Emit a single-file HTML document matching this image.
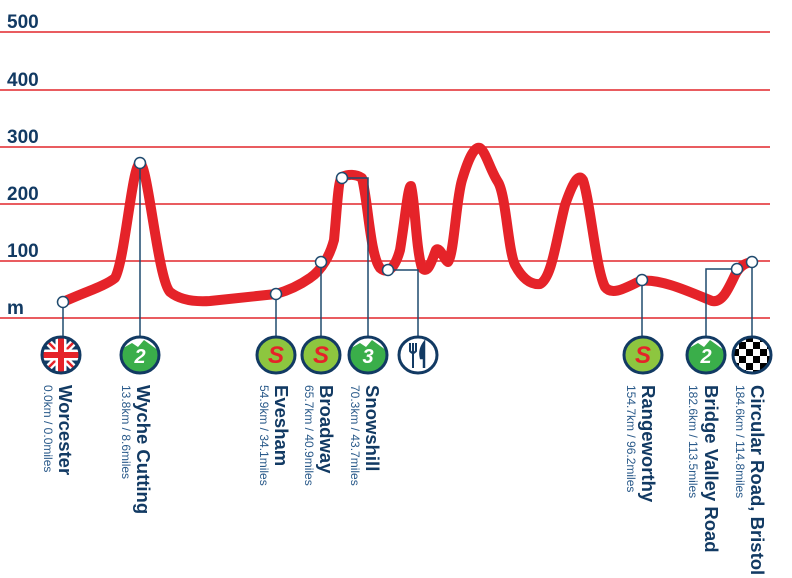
<!DOCTYPE html>
<html><head><meta charset="utf-8"><style>
html,body{margin:0;padding:0;background:#fff;width:792px;height:578px;overflow:hidden}
svg{display:block}
.ax{font:bold 19px "Liberation Sans",sans-serif;fill:#123a63}
.nm{font:bold 18.5px "Liberation Sans",sans-serif;fill:#123a63}
.ds{font:12px "Liberation Sans",sans-serif;fill:#2a5a8a}
</style></head><body>
<svg width="792" height="578" viewBox="0 0 792 578">
<defs>
<clipPath id="c"><ellipse cx="0" cy="0" rx="19" ry="18"/></clipPath>
<g id="mtn"><g clip-path="url(#c)"><rect x="-20" y="-20" width="40" height="40" fill="#fff"/><path d="M-22 -4 L-8 -12 L-2 -8 L4 -15 L22 -2 L22 22 L-22 22Z" fill="#3aae4a"/></g></g>
<g id="s"><ellipse rx="19" ry="18" fill="#8dc63f"/><text x="0" y="8" text-anchor="middle" style="font:italic bold 24px 'Liberation Sans',sans-serif;fill:#e52329">S</text></g>
</defs>
<g stroke="#e2262c" stroke-width="1.4">
<line x1="0" y1="32" x2="770" y2="32"/><line x1="0" y1="90" x2="770" y2="90"/><line x1="0" y1="147" x2="770" y2="147"/><line x1="0" y1="204" x2="770" y2="204"/><line x1="0" y1="261" x2="770" y2="261"/><line x1="0" y1="318" x2="770" y2="318"/>
</g>
<g class="ax"><text x="7" y="28">500</text><text x="7" y="86">400</text><text x="7" y="143">300</text><text x="7" y="200">200</text><text x="7" y="257">100</text><text x="7" y="314">m</text></g>
<path d="M63 302 C85 292 105 286 115 278 C125 260 132 165 140 163 C148 165 158 280 170 292 C180 300 195 302 210 301 L276 294 C290 290 300 285 310 278 C322 270 330 255 334 240 C337 210 338 180 342 177 C348 174 356 174 362 178 C368 200 370 255 380 268 C388 275 395 268 400 250 C405 220 408 185 411 186 C415 200 416 250 422 268 C428 275 432 260 436 250 C440 246 444 260 448 262 C454 255 456 200 462 180 C468 160 474 146 480 148 C486 152 490 170 498 182 C506 195 508 250 515 265 C522 278 530 285 540 284 C552 278 556 240 565 205 C572 185 578 172 583 180 C590 200 596 270 605 287 C612 296 625 288 640 281 C660 278 690 292 712 301 C722 303 728 290 735 275 C740 265 746 263 752 262" fill="none" stroke="#e52329" stroke-width="10" stroke-linecap="round" stroke-linejoin="round"/>
<g stroke="#1f4a6e" stroke-width="1.5" fill="none">
<path d="M63 302 V338"/><path d="M140 163 V338"/><path d="M276 294 V338"/><path d="M321 262 V338"/><path d="M342 178 H368 V338"/><path d="M388 270 H418 V338"/><path d="M642 280 V338"/><path d="M737 269 H706 V338"/><path d="M752 262 V338"/>
</g>
<g fill="#fff" stroke="#1f4a6e" stroke-width="1.5">
<circle cx="63" cy="302" r="5.5"/><circle cx="140" cy="163" r="5.5"/><circle cx="276" cy="294" r="5.5"/><circle cx="321" cy="262" r="5.5"/><circle cx="342" cy="178" r="5.5"/><circle cx="388" cy="270" r="5.5"/><circle cx="642" cy="280" r="5.5"/><circle cx="737" cy="269" r="5.5"/><circle cx="752" cy="262" r="5.5"/>
</g>
<g transform="translate(61,355)"><g clip-path="url(#c)"><rect x="-20" y="-20" width="40" height="40" fill="#123a63"/><path d="M-20 -20 L20 20 M20 -20 L-20 20" stroke="#fff" stroke-width="7"/><path d="M-20 -20 L20 20 M20 -20 L-20 20" stroke="#e52329" stroke-width="2.5"/><path d="M0 -20 V20 M-20 0 H20" stroke="#fff" stroke-width="11"/><path d="M0 -20 V20 M-20 0 H20" stroke="#e52329" stroke-width="6"/></g><ellipse rx="19" ry="18" fill="none" stroke="#123a63" stroke-width="3"/></g>
<g transform="translate(140,355)"><use href="#mtn"/><text x="0" y="8" text-anchor="middle" style="font:italic bold 20px 'Liberation Sans',sans-serif;fill:#fff">2</text><ellipse rx="19" ry="18" fill="none" stroke="#123a63" stroke-width="3"/></g>
<g transform="translate(276,355)"><use href="#s"/><ellipse rx="19" ry="18" fill="none" stroke="#123a63" stroke-width="3"/></g>
<g transform="translate(321,355)"><use href="#s"/><ellipse rx="19" ry="18" fill="none" stroke="#123a63" stroke-width="3"/></g>
<g transform="translate(368,355)"><use href="#mtn"/><text x="0" y="8" text-anchor="middle" style="font:italic bold 20px 'Liberation Sans',sans-serif;fill:#fff">3</text><ellipse rx="19" ry="18" fill="none" stroke="#123a63" stroke-width="3"/></g>
<g transform="translate(418,355)"><ellipse rx="19" ry="18" fill="#fff" stroke="#123a63" stroke-width="3"/><path d="M-5 -12 V-3 M-8 -12 V-4 Q-5 0 -2 -4 V-12 M-5 -2 V13" stroke="#123a63" stroke-width="2" fill="none"/><path d="M6 13 V-12 Q1 -5 3 3 H6" stroke="#123a63" stroke-width="2.5" fill="#123a63"/></g>
<g transform="translate(643,355)"><use href="#s"/><ellipse rx="19" ry="18" fill="none" stroke="#123a63" stroke-width="3"/></g>
<g transform="translate(706,355)"><use href="#mtn"/><text x="0" y="8" text-anchor="middle" style="font:italic bold 20px 'Liberation Sans',sans-serif;fill:#fff">2</text><ellipse rx="19" ry="18" fill="none" stroke="#123a63" stroke-width="3"/></g>
<g transform="translate(752,355)"><g clip-path="url(#c)"><rect x="-20" y="-20" width="40" height="40" fill="#fff"/><g fill="#000">
<rect x="-20" y="-20" width="7" height="7"/><rect x="-6" y="-20" width="7" height="7"/><rect x="8" y="-20" width="7" height="7"/>
<rect x="-13" y="-13" width="7" height="7"/><rect x="1" y="-13" width="7" height="7"/><rect x="15" y="-13" width="7" height="7"/>
<rect x="-20" y="-6" width="7" height="7"/><rect x="-6" y="-6" width="7" height="7"/><rect x="8" y="-6" width="7" height="7"/>
<rect x="-13" y="1" width="7" height="7"/><rect x="1" y="1" width="7" height="7"/><rect x="15" y="1" width="7" height="7"/>
<rect x="-20" y="8" width="7" height="7"/><rect x="-6" y="8" width="7" height="7"/><rect x="8" y="8" width="7" height="7"/>
<rect x="-13" y="15" width="7" height="7"/><rect x="1" y="15" width="7" height="7"/><rect x="15" y="15" width="7" height="7"/>
</g></g><ellipse rx="19" ry="18" fill="none" stroke="#123a63" stroke-width="3"/></g>
<g class="nm">
<text transform="translate(59,385) rotate(90)">Worcester</text>
<text transform="translate(137,385) rotate(90)">Wyche Cutting</text>
<text transform="translate(275,385) rotate(90)">Evesham</text>
<text transform="translate(320,385) rotate(90)">Broadway</text>
<text transform="translate(366,385) rotate(90)">Snowshill</text>
<text transform="translate(642,385) rotate(90)">Rangeworthy</text>
<text transform="translate(705,385) rotate(90)">Bridge Valley Road</text>
<text transform="translate(751,385) rotate(90)">Circular Road, Bristol</text>
</g>
<g class="ds">
<text transform="translate(44,385) rotate(90)">0.0km / 0.0miles</text>
<text transform="translate(122,385) rotate(90)">13.8km / 8.6miles</text>
<text transform="translate(260,385) rotate(90)">54.9km / 34.1miles</text>
<text transform="translate(305,385) rotate(90)">65.7km / 40.9miles</text>
<text transform="translate(351,385) rotate(90)">70.3km / 43.7miles</text>
<text transform="translate(627,385) rotate(90)">154.7km / 96.2miles</text>
<text transform="translate(689,385) rotate(90)">182.6km / 113.5miles</text>
<text transform="translate(736,385) rotate(90)">184.6km / 114.8miles</text>
</g>
</svg>
</body></html>
